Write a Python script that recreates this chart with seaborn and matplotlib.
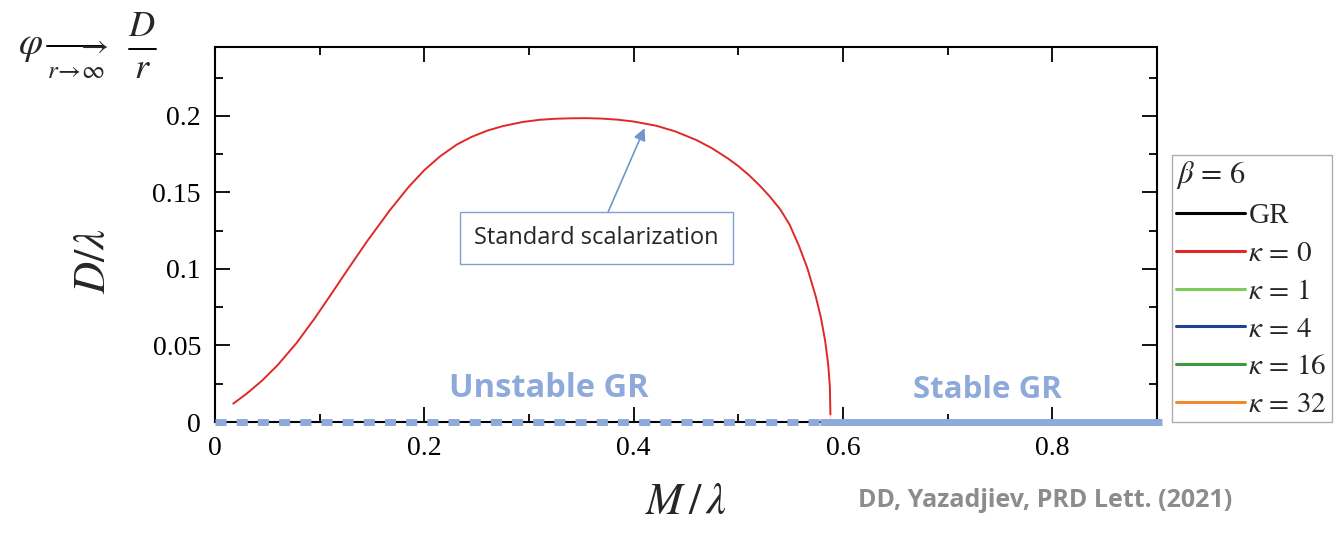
import matplotlib
matplotlib.use('Agg')
import matplotlib.pyplot as plt
from matplotlib.lines import Line2D
from matplotlib.ticker import MultipleLocator
import seaborn as sns
import pandas as pd

# ── data ────────────────────────────────────────────────
# kappa = 0 branch (standard scalarization), beta = 6
m_kappa0 = [0.0175, 0.03, 0.045, 0.06, 0.078, 0.095, 0.11, 0.127, 0.145, 0.167,
            0.185, 0.20, 0.215, 0.231, 0.245, 0.26, 0.275, 0.294, 0.31, 0.325,
            0.34, 0.355, 0.37, 0.385, 0.40, 0.422, 0.44, 0.46, 0.475, 0.49,
            0.50, 0.51, 0.52, 0.53, 0.54, 0.549, 0.558, 0.566, 0.574, 0.579,
            0.583, 0.586, 0.5875, 0.588, 0.588]
d_kappa0 = [0.0120, 0.0183, 0.0270, 0.0372, 0.0516, 0.0674, 0.0824, 0.0997, 0.1177, 0.1382,
            0.1535, 0.1645, 0.1735, 0.1812, 0.1862, 0.1903, 0.1933, 0.1960, 0.1974, 0.1981,
            0.1984, 0.1985, 0.1982, 0.1975, 0.1963, 0.1935, 0.1898, 0.1842, 0.1788, 0.1722,
            0.1672, 0.1614, 0.1548, 0.1474, 0.1390, 0.1290, 0.1150, 0.1005, 0.0820, 0.0680,
            0.0530, 0.0370, 0.0230, 0.0100, 0.0]

# GR branch (D = 0), split into unstable / stable parts
gr_m = [0.0, 0.9]
gr_d = [0.0, 0.0]
unstable_m = [0.0, 0.578]
stable_m = [0.578, 0.905]

legend_labels = ["GR", r"$\kappa\,=\,0$", r"$\kappa\,=\,1$", r"$\kappa\,=\,4$",
                 r"$\kappa\,=\,16$", r"$\kappa\,=\,32$"]
legend_colors = ["#000000", "#e02828", "#7ccb5b", "#1f3f99", "#3e9a3e", "#f08a30"]

GR_BLUE = "#8eaadb"

sns.set_theme(style="ticks")
plt.rcParams['font.family'] = ['Liberation Serif', 'DejaVu Serif']
plt.rcParams['mathtext.fontset'] = 'stix'

fig = plt.figure(figsize=(13.43, 5.40), dpi=100)
ax = fig.add_axes([0.160, 0.2185, 0.7015, 0.6945])

# GR line and the stability markings
sns.lineplot(x=gr_m, y=gr_d, ax=ax, color="black", lw=1.0)
ax.plot(unstable_m, [0, 0], color=GR_BLUE, lw=5, dashes=(1.6, 1.45),
        solid_capstyle='butt', dash_capstyle='butt', clip_on=False, zorder=3)
ax.plot(stable_m, [0, 0], color=GR_BLUE, lw=5, solid_capstyle='butt',
        clip_on=False, zorder=3)

# kappa = 0 curve
df = pd.DataFrame({"M": m_kappa0, "D": d_kappa0})
sns.lineplot(data=df, x="M", y="D", ax=ax, color=legend_colors[1], lw=1.4,
             sort=False, zorder=4)

ax.set_xlim(0, 0.9)
ax.set_ylim(0, 0.245)
ax.xaxis.set_major_locator(MultipleLocator(0.2))
ax.xaxis.set_minor_locator(MultipleLocator(0.1))
ax.yaxis.set_major_locator(MultipleLocator(0.05))
ax.yaxis.set_minor_locator(MultipleLocator(0.025))
ax.xaxis.set_major_formatter(lambda v, p: "0" if v == 0 else f"{v:g}")
ax.yaxis.set_major_formatter(lambda v, p: "0" if v == 0 else f"{v:g}")
ax.tick_params(which='both', direction='in', top=True, right=True, width=1.3,
               labelsize=20, colors='black', pad=10)
ax.tick_params(which='major', length=11)
ax.tick_params(which='minor', length=6)
for s in ax.spines.values():
    s.set_linewidth(1.5)
    s.set_color('black')

ax.set_xlabel(r"$M\,/\,\lambda$", fontsize=32, labelpad=16)
ax.set_ylabel(r"$D/\lambda$", fontsize=32, labelpad=26)
ax.yaxis.set_label_coords(-0.107, 0.43)

# stability labels
ax.text(0.319, 0.011, "Unstable GR", color=GR_BLUE, fontsize=23.5,
        fontweight='bold', family='Open Sans', ha='center', va='bottom')
ax.text(0.738, 0.011, "Stable GR", color=GR_BLUE, fontsize=22.5,
        fontweight='bold', family='Open Sans', ha='center', va='bottom')

# annotation box
ax.annotate("Standard scalarization", xy=(0.4105, 0.192), xytext=(0.3647, 0.120),
            fontsize=17, family='Open Sans', ha='center', va='center',
            bbox=dict(boxstyle='square,pad=0.6', fc='white', ec='#7f9fcf', lw=1),
            arrowprops=dict(arrowstyle='-|>', color='#6f97cc', lw=1.2,
                            shrinkA=0, shrinkB=0, mutation_scale=18))

# asymptotic relation in the top-left corner, built from pieces
W, H = 1343.0, 540.0
fig.text(30 / W, 1 - 46 / H, r"$\varphi$", fontsize=28, ha='center', va='center')
fig.add_artist(plt.Line2D([47 / W, 103 / W], [1 - 46 / H, 1 - 46 / H],
                          color='black', lw=1.4))
fig.text(108 / W, 1 - 46 / H, r"$\rightarrow$", fontsize=22, ha='right', va='center')
fig.text(76 / W, 1 - 72 / H, r"$r\!\rightarrow\!\infty$", fontsize=18,
         ha='center', va='center')
fig.text(142 / W, 1 - 27 / H, r"$D$", fontsize=26, ha='center', va='center')
fig.add_artist(plt.Line2D([129 / W, 156 / W], [1 - 49 / H, 1 - 49 / H],
                          color='black', lw=1.4))
fig.text(142 / W, 1 - 70 / H, r"$r$", fontsize=26, ha='center', va='center')

# citation
fig.text(0.639, 0.074, "DD, Yazadjiev, PRD Lett. (2021)", fontsize=18,
         color='#8c8c8c', fontweight='bold', family='Open Sans', ha='left', va='center')

# legend
handles = [Line2D([0], [0], color=c, lw=2.2) for c in legend_colors]
leg = fig.legend(handles, legend_labels, title=r"$\beta\,=\,6$", loc='upper left',
                 bbox_to_anchor=(1172 / W, 1 - 155 / H), fontsize=21, title_fontsize=22,
                 frameon=True, fancybox=False, edgecolor='#999999',
                 handlelength=2.35, handletextpad=0.12, labelspacing=0.39,
                 borderpad=0.15, borderaxespad=0)
leg._legend_box.align = "left"
leg.get_frame().set_linewidth(1.0)

fig.savefig("out.png", dpi=100)
